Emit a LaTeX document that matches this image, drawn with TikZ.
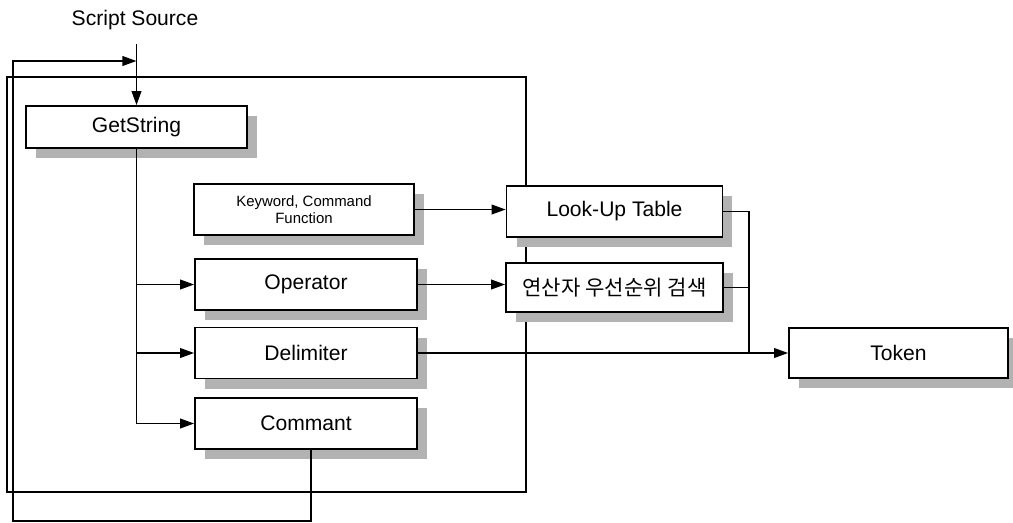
\documentclass[tikz,border=0pt]{standalone}
\usepackage{fontspec}
\setmainfont{Liberation Sans}
\newfontfamily\krfont{Noto Sans CJK KR}
\usepackage{tikz}
\usetikzlibrary{arrows.meta,shadows}

\tikzset{
  blk/.style={draw, fill=white, line width=1pt, minimum height=1.02cm, inner sep=2pt,
    font=\fontsize{12}{14}\selectfont, align=center,
    drop shadow={shadow xshift=0.2cm, shadow yshift=-0.2cm, fill=black!30, opacity=1}},
  flow/.style={line width=1pt, -{Triangle[length=8pt,width=5.5pt]}},
  wire/.style={line width=1pt},
}

\begin{document}
\begin{tikzpicture}[x=0.02cm, y=-0.02cm]
  \useasboundingbox (0,0) rectangle (1013,522);
  % outer frame, drawn first so the boxes sit on it
  \draw[wire] (7,77) rectangle (526,492);
  \node[font=\fontsize{12}{14}\selectfont] (src) at (135,20) {Script Source};
  % the boxes
  \node[blk, minimum width=4.42cm, minimum height=0.84cm] (getstr) at (136.5,127) {GetString};
  \node[blk, minimum width=4.4cm, font=\fontsize{8.5}{10}\selectfont] (kw) at (304,209.5) {Keyword, Command\\Function};
  \node[blk, minimum width=4.44cm] (op) at (306,284.5) {Operator};
  \node[blk, minimum width=4.44cm] (delim) at (306,353) {Delimiter};
  \node[blk, minimum width=4.44cm] (comm) at (306,423.5) {Commant};
  \node[blk, minimum width=4.32cm] (lut) at (614.5,211.5) {Look-Up Table};
  \node[blk, minimum width=4.34cm, minimum height=0.98cm, font=\krfont\fontsize{12}{14}\selectfont] (prio) at (614.5,287.5) {연산자 우선순위 검색};
  \node[blk, minimum width=4.38cm, minimum height=1.0cm] (token) at (898.5,353) {Token};
  \coordinate (jn) at (749,0);
  \coordinate (looptop) at (13,61);
  % input and branches from GetString
  \draw[flow] ([yshift=-0.16cm]src.south -| getstr.north) -- (getstr.north);
  \foreach \n in {op,delim,comm}
    \draw[flow] (getstr.south) |- (\n.west);
  \draw[flow] (kw.east) -- (kw.east -| lut.west);
  \draw[flow] (op.east) -- (op.east -| prio.west);
  \draw[flow] (delim.east) -- (token.west);
  % results joined into the token line
  \draw[wire] (lut.east) -| (jn |- delim.east);
  \draw[wire] (prio.east) -- (prio.east -| jn);
  % loop back to the start
  \draw[flow] ([xshift=0.1cm]comm.south) -- ++(0,71) -| (looptop) -- (getstr.north |- looptop);
\end{tikzpicture}
\end{document}
